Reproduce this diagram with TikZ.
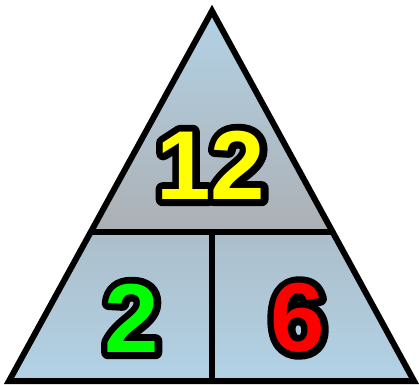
\documentclass[tikz,border=0pt]{standalone}
\usepackage{fontspec}
\setmainfont{Liberation Sans}
\usetikzlibrary{calc}
\definecolor{skyblue}{RGB}{178,210,230}
\definecolor{midgray}{RGB}{172,176,180}
\definecolor{lowgray}{RGB}{172,190,202}
\definecolor{numyellow}{RGB}{255,255,0}
\definecolor{numgreen}{RGB}{0,255,0}
\definecolor{numred}{RGB}{255,0,0}
% outlined digits: stroked copy underneath, filled copy on top
\newcommand{\num}[2]{\makebox[0pt][l]{\textcolor{black}{\special{pdf:literal direct 2 Tr 14 w 1 j}#2\special{pdf:literal direct 0 Tr}}}\textcolor{#1}{#2}}
\tikzset{
  edge/.style={line width=6pt, line join=miter},
  bignum/.style={inner sep=0pt, font=\fontsize{98}{98}\selectfont\bfseries}
}

\begin{document}
\begin{tikzpicture}[x=1pt, y=1pt]
  \useasboundingbox (0,0) rectangle (419,384);
  \coordinate (top) at (212,373);
  \coordinate (left) at (9,3);
  \coordinate (right) at (414,3);
  \coordinate (ml) at ($(top)!0.596!(left)$);
  \coordinate (mr) at ($(top)!0.596!(right)$);
  \coordinate (mc) at ($(ml)!0.5!(mr)$);
  \coordinate (bc) at (mc |- left);
  % shading
  \shade[top color=skyblue, bottom color=midgray] (top) -- (ml) -- (mr) -- cycle;
  \shade[top color=lowgray, bottom color=skyblue] (ml) -- (left) -- (right) -- (mr) -- cycle;
  % lines
  \draw[edge] (ml) -- (mr);
  \draw[edge] (mc) -- (bc);
  \draw[edge] (top) -- (left) -- (right) -- cycle;
  % numbers
  \node[bignum] (prod) at (211,219) {\num{numyellow}{12}};
  \node[bignum] (fa) at (132,66) {\num{numgreen}{2}};
  \node[bignum] (fb) at (298,66) {\num{numred}{6}};
\end{tikzpicture}
\end{document}
